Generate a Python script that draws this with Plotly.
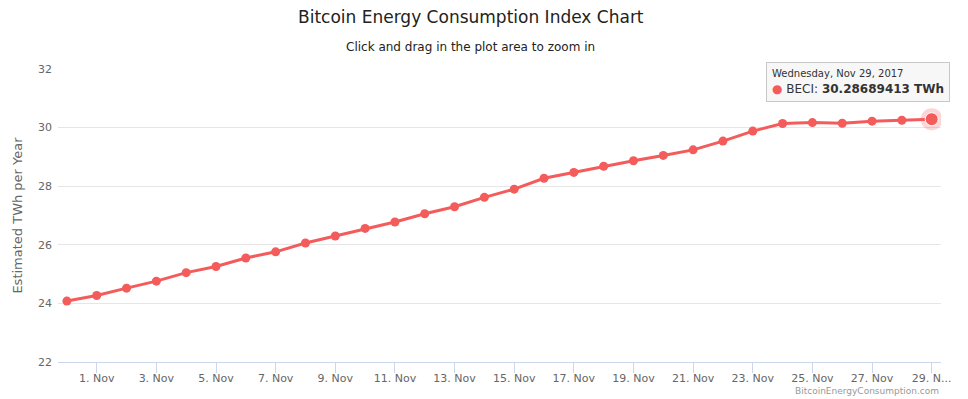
import plotly.graph_objects as go
import pandas as pd

dates = pd.date_range("2017-10-31", "2017-11-29", freq="D")
beci = [24.08, 24.27, 24.52, 24.76, 25.05, 25.26, 25.55, 25.76, 26.06, 26.30,
        26.56, 26.78, 27.06, 27.30, 27.62, 27.90, 28.27, 28.47, 28.68, 28.87,
        29.05, 29.24, 29.54, 29.88, 30.14, 30.17, 30.15, 30.22, 30.25, 30.28689413]

tick_dates = pd.date_range("2017-11-01", "2017-11-29", freq="2D")
tick_text = [f"{d.day}. Nov" for d in tick_dates]
tick_text[-1] = "29. N..."
y_ticks = [22, 24, 26, 28, 30, 32]

LINE = "#f45b5b"
FONT = "DejaVu Sans"

fig = go.Figure()
fig.add_trace(go.Scatter(
    x=[dates[-1]], y=[beci[-1]], mode="markers",
    marker=dict(size=22, color="rgba(244,91,91,0.25)", line=dict(width=0)),
    hoverinfo="skip", showlegend=False))
fig.add_trace(go.Scatter(
    x=dates, y=beci, mode="lines+markers", name="BECI",
    line=dict(color=LINE, width=3),
    marker=dict(size=9, color=LINE),
    showlegend=False))
fig.add_trace(go.Scatter(
    x=[dates[-1]], y=[beci[-1]], mode="markers",
    marker=dict(size=13, color=LINE, line=dict(width=1, color="#ffffff")),
    hoverinfo="skip", showlegend=False))

fig.update_layout(
    width=960, height=391,
    margin=dict(l=50, r=27, t=61, b=37),
    paper_bgcolor="white", plot_bgcolor="white",
    font=dict(family=FONT, color="#666666", size=11),
    xaxis=dict(
        type="date", automargin=False,
        range=[pd.Timestamp("2017-10-30 16:50"), pd.Timestamp("2017-11-29 07:30")],
        tickvals=list(tick_dates), ticktext=tick_text,
        ticks="outside", ticklen=10, tickcolor="#ccd6eb", tickwidth=1,
        showline=True, linecolor="#ccd6eb", linewidth=1,
        showgrid=False, zeroline=False, ticklabelstandoff=-4,
        tickfont=dict(size=11, color="#666666"),
    ),
    yaxis=dict(
        range=[22, 32], tickvals=y_ticks, automargin=False,
        showgrid=True, gridcolor="#e6e6e6", gridwidth=1,
        zeroline=False, showline=False, ticks="", ticklabelstandoff=5,
        tickfont=dict(size=11, color="#666666"),
        title=dict(text="Estimated TWh per Year", font=dict(size=13, color="#666666"),
                   standoff=12),
    ),
    hovermode=False,
)

fig.add_annotation(
    text="Bitcoin Energy Consumption Index Chart",
    xref="paper", yref="paper", x=0.4677, y=1, yshift=52,
    showarrow=False, font=dict(size=17, color="#222222", family=FONT),
    xanchor="center", yanchor="middle")

fig.add_annotation(
    text="Click and drag in the plot area to zoom in",
    xref="paper", yref="paper", x=0.4677, y=1, yshift=22,
    showarrow=False, font=dict(size=12, color="#222222", family=FONT),
    xanchor="center", yanchor="middle")

fig.add_annotation(
    text=("<span style='font-size:10px'>Wednesday, Nov 29, 2017</span><br>"
          f"<span style='color:{LINE}'>●</span> BECI: <b>{beci[-1]:.8f} TWh</b>"),
    xref="x", yref="y", x=dates[-1], y=beci[-1],
    showarrow=False, xanchor="right", yanchor="bottom", xshift=18, yshift=17,
    align="left", bgcolor="rgba(247,247,247,0.95)", bordercolor="#c8c8c8",
    borderwidth=1, borderpad=5,
    font=dict(size=12, color="#333333", family=FONT))

fig.add_annotation(
    text="BitcoinEnergyConsumption.com",
    xref="paper", yref="paper", x=1, y=0, yshift=-29,
    showarrow=False, xanchor="right", yanchor="middle",
    font=dict(size=9, color="#999999", family=FONT))

fig.write_html("out.html")
